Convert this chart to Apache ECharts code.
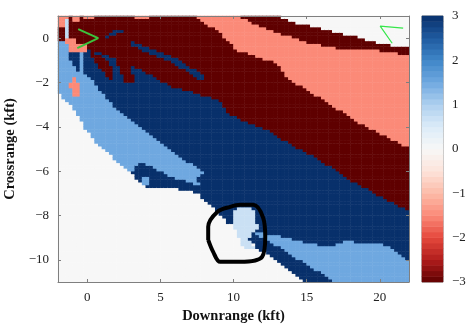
<!DOCTYPE html>
<html><head><meta charset="utf-8">
<style>html,body{margin:0;padding:0;background:#fff}#c{width:468px;height:326px}</style>
<script src="https://cdn.jsdelivr.net/npm/echarts@6/dist/echarts.min.js"></script>
</head><body><div id="c"></div>
<script>
const xTicks = [0, 5, 10, 15, 20];
const yTicks = [0, -2, -4, -6, -8, -10];
const barTicks = [3, 2, 1, 0, -1, -2, -3];
const colorStops = ['#5f0000','#b01c1c','#e5483c','#fb8a78','#fcbba8','#fde3da','#f7f7f7','#dcebf8','#aed0ef','#6fa8e0','#3f86c8','#1f5aa0','#08306b'];

// Outlines of the constant-value patches of the map [downrange, crossrange]
const lightLeft = [[-2,-.09],[-1.5,-.09],[1,-.6],[8.5,-5.8],[8.2,-6.9],[5.67,-6.4],[4.51,-5.9],[3.62,-5.7],[2.94,-6.08],[.41,-4.59],[-.27,-3.92],[-.96,-3.11],[-2,-2.48]];
const darkMain = [[-.27,-.3],[3,-.5],[9,-2],[22,-7],[22,-10.09],[20.51,-9.32],[18.66,-9.28],[17.84,-9.1],[16.61,-9.41],[15.72,-9.32],[12.71,-8.87],[11.62,-8.74],[9.64,-8.33],[8.61,-7.66],[7.52,-6.98],[5.88,-6.76],[4.17,-6.76],[2.94,-6.08],[3.62,-5.63],[4.51,-5.81],[5.67,-6.26],[7.25,-6.53],[7.93,-6.76],[7.38,-6.4],[8.07,-6.04],[6.36,-5.36],[4.78,-4.59],[2.26,-3.38],[.75,-2.28],[.41,-1.9],[-.27,-1.55]];
const blobSpeck = [[3.75,-6.2],[4.3,-6.2],[4.3,-6.65],[3.75,-6.65]];
const lightBottom = [[11.62,-8.74],[12.71,-8.87],[15.72,-9.32],[16.61,-9.41],[17.84,-9.1],[18.66,-9.28],[20.51,-9.32],[22,-10.09],[22,-11],[16.95,-11],[12.3,-9.23],[11.35,-8.9]];
const darkStrip = [[11,-9],[11.3,-8.74],[12.3,-9.1],[16.95,-11],[14.76,-11],[12.03,-9.64],[11.62,-9.46]];
const paleCircle = [[10.25,-7.66],[11.35,-7.66],[11.69,-8.56],[11.28,-8.74],[11,-9.1],[11.62,-9.46],[10.66,-9.46],[9.9,-8.3],[10,-7.9]];
const redMain = [[-2,1],[7.38,1],[9.09,.23],[10.25,-.54],[12.99,-1.13],[13.67,-1.8],[15.93,-2.7],[18.87,-3.92],[22,-4.95],[22,-7.79],[18.18,-6.49],[15.93,-5.5],[13.4,-4.59],[12.03,-4.05],[9.77,-3.47],[9.09,-2.79],[5.88,-2.21],[2.39,-.99],[.2,-.55],[-2,-.09]];
const redTongueA = [[.2,-.63],[1.57,-.99],[1.78,-1.89],[1.44,-1.8],[.55,-1.08]];
const redTongueB = [[2.12,-.54],[2.94,-.99],[3.21,-1.98],[2.6,-1.98],[1.98,-1.08]];
const salmonMain = [[7.38,1],[10.25,1],[12.51,.36],[15.24,-.23],[17.09,-.45],[19.82,-.54],[22,-.77],[22,-4.95],[18.87,-3.92],[15.93,-2.7],[13.67,-1.8],[12.99,-1.13],[10.25,-.54],[9.09,.23]];
const redBand = [[10.25,1],[12.99,1],[13.67,.8],[16.4,.36],[18.46,.05],[20.03,-.23],[22,-.45],[22,-.77],[19.82,-.54],[17.09,-.45],[15.24,-.23],[12.51,.36]];
const streakA = [[1.1,.05],[1.9,.38],[2.5,.45],[2.5,.25],[1.9,.18],[1.2,-.05]];
const streakB = [[3.1,-.1],[3.7,-.3],[5.9,-.85],[8,-1.65],[8.1,-1.9],[7.5,-1.8],[5.6,-1],[3.6,-.52],[3.1,-.32]];
const salmonCorner = [[-2,1],[-1.2,1],[-1.2,.55],[-1.6,.45],[-2,.55]];
const salmonTopA = [[-1,1],[-.5,1],[-.5,.7],[-1,.7]];
const salmonTopB = [[-.3,1],[.4,1],[.4,.85],[-.3,.85]];
const salmonTopC = [[3.08,1],[4.31,1],[4,.88],[3.3,.88]];
const paleStreak = [[-1.5,.85],[-1.25,.85],[-1.25,-.05],[-1.5,-.05]];
const salmonPillar = [[-1.5,-.05],[-.85,-.05],[-.85,-.3],[.1,-.3],[.1,-.6],[-1.1,-.6]];
const darkStalk = [[-1.25,-.6],[-.6,-.6],[-.55,-1.55],[-.85,-1.55],[-.9,-1.05],[-1.25,-1]];
const salmonBlob = [[-1,-1.7],[-.7,-1.7],[-.55,-2.3],[-.5,-2.55],[-.9,-2.6],[-1.2,-2.2]];

// Painted in this order, later patches over earlier ones; background value is 0
const patches = [
  [lightLeft,1.5],[darkMain,3],[blobSpeck,1.5],[lightBottom,1.5],[darkStrip,3],[paleCircle,.7],
  [redMain,-3],[redTongueA,-3],[redTongueB,-3],[salmonMain,-1.5],[redBand,-3],
  [streakA,3],[streakB,3],[salmonCorner,-1.5],[salmonTopA,-1.5],[salmonTopB,-1.5],[salmonTopC,-1.5],
  [paleStreak,.8],[salmonPillar,-1.5],[darkStalk,3],[salmonBlob,-1.5]
];
const greenLeft = [[-.62,.41],[.75,0],[-.68,-.45]];
const greenRight = [[21.6,.45],[20.03,.54],[20.85,-.23]];
const handCircle = [[8.27,-9.1],[8.27,-8.51],[8.89,-7.84],[9.77,-7.61],[10.46,-7.52],[11.35,-7.52],[12.03,-8.11],[12.17,-8.96],[11.96,-9.86],[10.46,-10.09],[9.09,-10.09],[8.61,-9.64],[8.27,-9.1]];

const xMin=-2,xMax=22,yMin=-11,yMax=1,cols=96,rows=96;
function inside(p,x,y){let c=false;for(let i=0,j=p.length-1;i<p.length;j=i++){
  if((p[i][1]>y)!==(p[j][1]>y)&&x<(p[j][0]-p[i][0])*(y-p[i][1])/(p[j][1]-p[i][1])+p[i][0])c=!c;}return c;}
const cells=[],xCats=[],yCats=[];
for(let i=0;i<cols;i++)xCats.push(i);
for(let j=0;j<rows;j++)yCats.push(j);
for(let i=0;i<cols;i++)for(let j=0;j<rows;j++){
  const x=xMin+(i+.5)*(xMax-xMin)/cols,y=yMin+(j+.5)*(yMax-yMin)/rows;let v=0;
  for(const [p,val] of patches)if(inside(p,x,y))v=val;
  cells.push([i,j,v]);
}
const barN=48,barCats=[],barCells=[];
for(let j=0;j<barN;j++){barCats.push(j);barCells.push([0,j,-3+(j+.5)*6/barN]);}

const font='"Liberation Serif",serif',gray='#7f7f7f',ink='#222';
const minus=v=>String(v).replace('-','\u2212');
const vis=(extra)=>Object.assign({type:'value',axisLine:{show:true,onZero:false,lineStyle:{color:gray}},splitLine:{show:false},z:5},extra);
const hid=(extra)=>Object.assign({type:'category',show:false,boundaryGap:true},extra);
const lbl=(vals)=>({customValues:vals,color:ink,fontFamily:font,fontSize:13,margin:9,formatter:minus});
const tick=(vals)=>({show:true,inside:true,length:3,customValues:vals,lineStyle:{color:gray}});
const chart=echarts.init(document.getElementById('c'),null,{renderer:'canvas'});
chart.setOption({
  animation:false,backgroundColor:'#fff',
  grid:[{left:58,top:16,width:351,height:266,outerBoundsMode:'none'},{left:422,top:16,width:21,height:266,show:true,borderColor:gray,borderWidth:1,outerBoundsMode:'none'}],
  visualMap:{show:false,type:'continuous',min:-3,max:3,seriesIndex:[0,1],inRange:{color:colorStops}},
  xAxis:[
    vis({gridIndex:0,min:xMin,max:xMax,position:'bottom',axisTick:tick(xTicks),axisLabel:lbl(xTicks),
      name:'Downrange (kft)',nameLocation:'middle',nameGap:25,nameTextStyle:{fontFamily:font,fontWeight:'bold',fontSize:14.5,color:'#111'}}),
    hid({gridIndex:0,data:xCats}),
    hid({gridIndex:1,data:[0]}),
    vis({gridIndex:0,min:xMin,max:xMax,position:'top',axisTick:tick(xTicks),axisLabel:{show:false}})
  ],
  yAxis:[
    vis({gridIndex:0,min:yMin,max:yMax,position:'left',axisTick:tick(yTicks),axisLabel:lbl(yTicks),
      name:'Crossrange (kft)',nameLocation:'middle',nameGap:39,nameRotate:90,nameTextStyle:{fontFamily:font,fontWeight:'bold',fontSize:14.5,color:'#111'}}),
    hid({gridIndex:0,data:yCats}),
    hid({gridIndex:1,data:barCats}),
    vis({gridIndex:1,min:-3,max:3,position:'right',axisTick:{show:false},axisLine:{show:false},axisLabel:lbl(barTicks)}),
    vis({gridIndex:0,min:yMin,max:yMax,position:'right',axisTick:tick(yTicks),axisLabel:{show:false}})
  ],
  series:[
    {type:'heatmap',xAxisIndex:1,yAxisIndex:1,data:cells,progressive:0,silent:true,z:1,emphasis:{disabled:true}},
    {type:'heatmap',xAxisIndex:2,yAxisIndex:2,data:barCells,progressive:0,silent:true,z:1,emphasis:{disabled:true}},
    {type:'line',xAxisIndex:0,yAxisIndex:0,data:handCircle,showSymbol:false,smooth:.35,lineStyle:{color:'#000',width:4},z:7,silent:true},
    {type:'line',xAxisIndex:0,yAxisIndex:0,data:greenLeft,showSymbol:false,lineStyle:{color:'#3cc43c',width:2},z:7,silent:true},
    {type:'line',xAxisIndex:0,yAxisIndex:0,data:greenRight,showSymbol:false,lineStyle:{color:'#35e64a',width:1.2},z:7,silent:true}
  ]
});
</script></body></html>
